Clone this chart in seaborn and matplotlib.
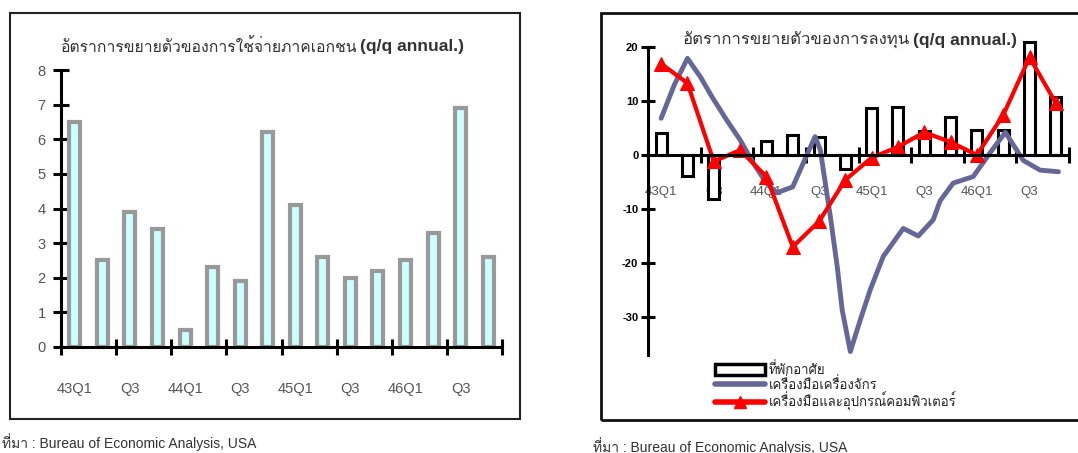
import numpy as np
import seaborn as sns
import matplotlib
matplotlib.use("Agg")
import matplotlib.pyplot as plt
from matplotlib.patches import Rectangle, Patch
from matplotlib.lines import Line2D

#%%
# Data (Thai fiscal quarters 43Q1 - 46Q4)
quarter_pos = np.arange(16)
tick_labels = ["43Q1", "Q3", "44Q1", "Q3", "45Q1", "Q3", "46Q1", "Q3"]

# left chart: private consumption growth
consumption = [6.5, 2.5, 3.9, 3.4, 0.5, 2.3, 1.9, 6.2, 4.1, 2.6, 2.0, 2.2, 2.5, 3.3, 6.9, 2.6]

# right chart: investment growth
residential = [4.0, -3.8, -8.1, 0.5, 2.6, 3.7, 3.4, -2.5, 8.7, 8.9, 4.5, 7.0, 4.6, 4.7, 20.9, 10.7]
computer = [16.9, 13.3, -1.2, 0.9, -4.0, -17.0, -12.3, -4.6, -0.5, 1.5, 4.2, 2.4, 0.0, 7.4, 18.1, 9.6]
# machinery line is smoothed in the original, so read at more points
machinery_x = [0.0, 0.5, 1.0, 1.5, 1.94, 2.5, 3.0, 3.5, 4.0, 4.4, 5.0, 5.4, 5.85, 6.05, 6.43, 6.69,
               6.88, 7.19, 7.57, 7.95, 8.44, 9.2, 9.77, 10.34, 10.6, 11.1, 11.86, 12.5, 13.08, 13.76,
               14.4, 15.1]
machinery = [6.8, 13.0, 17.9, 14.4, 10.7, 6.4, 2.8, -1.5, -5.2, -7.0, -5.9, -1.5, 3.4, 0.9, -11.4, -20.6,
             -28.7, -36.4, -30.5, -24.9, -18.8, -13.6, -15.0, -12.0, -8.5, -5.2, -4.0, 0.4, 4.2, -1.0,
             -2.8, -3.1]

title_left = "อัตราการขยายตัวของการใช้จ่ายภาคเอกชน"
title_right = "อัตราการขยายตัวของการลงทุน"
source = "ที่มา : Bureau of Economic Analysis, USA"
legend_labels = ["ที่พักอาศัย", "เครื่องมือเครื่องจักร", "เครื่องมือและอุปกรณ์คอมพิวเตอร์"]

#%%
sns.set_theme(style="white")
plt.rcParams["font.family"] = ["Liberation Sans", "Loma", "DejaVu Sans"]
plt.rcParams["axes.unicode_minus"] = False

W, H = 1078, 453
fig = plt.figure(figsize=(W / 100, H / 100), dpi=100)
fig.patch.set_facecolor("white")


def px_axes(x0, y0, x1, y1):
    # axes from pixel box (top-left origin)
    return fig.add_axes([x0 / W, 1 - y1 / H, (x1 - x0) / W, (y1 - y0) / H])


# panel frames
fig.patches.append(Rectangle((10 / W, 1 - 419 / H), 510 / W, 406 / H, transform=fig.transFigure,
                             fill=False, edgecolor="#222222", linewidth=1.5))
fig.patches.append(Rectangle((601 / W, 1 - 420 / H), 500 / W, 407 / H, transform=fig.transFigure,
                             fill=False, edgecolor="#111111", linewidth=2.0))

#%%
# Left chart
ax1 = px_axes(61, 70, 502, 347)
sns.barplot(x=quarter_pos, y=consumption, native_scale=True, width=0.4, color="#ccffff",
            saturation=1, edgecolor="#999999", linewidth=3, ax=ax1)
ax1.set_xlim(-0.5, 15.5)
ax1.set_ylim(0, 8)
ax1.patch.set_alpha(0)
for s in ["top", "right"]:
    ax1.spines[s].set_visible(False)
for s in ["left", "bottom"]:
    ax1.spines[s].set_linewidth(2.2)
    ax1.spines[s].set_color("black")
ax1.spines["left"].set_bounds(0, 8)
ax1.set_yticks(range(0, 9))
ax1.set_xticks(np.arange(-0.5, 16, 2))
ax1.set_xticklabels([])
ax1.set_xticks(np.arange(0, 16, 2), minor=True)
ax1.set_xticklabels(tick_labels, minor=True)
ax1.tick_params(axis="x", which="major", bottom=True, direction="inout", length=12, width=2.2,
                color="black")
ax1.tick_params(axis="x", which="minor", bottom=True, length=0, pad=25, labelsize=10.5,
                labelcolor="#555555")
ax1.tick_params(axis="y", left=True, direction="inout", length=12, width=2.2, color="black", pad=5,
                labelsize=10.5, labelcolor="#555555")
ax1.set_xlabel("")
ax1.set_ylabel("")

fig.text(357 / W, 1 - 47 / H, title_left, ha="right", va="center", fontsize=11.3, color="#333333")
fig.text(360 / W, 1 - 47 / H, "(q/q annual.)", ha="left", va="center", fontsize=12.5,
         fontweight="bold", color="#333333")
fig.text(2 / W, 1 - 442 / H, source, ha="left", va="center", fontsize=10, color="#333333")

#%%
# Right chart
ax2 = px_axes(648, 38.9, 1069, 354.8)
sns.barplot(x=quarter_pos, y=residential, native_scale=True, width=0.42, color="white",
            saturation=1, edgecolor="black", linewidth=2.2, ax=ax2)
sns.lineplot(x=machinery_x, y=machinery, sort=False, color="#666699", linewidth=3.5,
             solid_joinstyle="round", solid_capstyle="round", ax=ax2)
sns.lineplot(x=quarter_pos, y=computer, color="red", linewidth=3, marker="^", markersize=10,
             markeredgecolor="red", ax=ax2)
ax2.set_xlim(-0.5, 15.5)
ax2.set_ylim(-37, 21.5)
ax2.patch.set_alpha(0)
for s in ["top", "right"]:
    ax2.spines[s].set_visible(False)
for s in ["left", "bottom"]:
    ax2.spines[s].set_linewidth(2.2)
    ax2.spines[s].set_color("black")
ax2.spines["bottom"].set_position(("data", 0))
ax2.spines["left"].set_bounds(-37, 20)
ax2.set_yticks([20, 10, 0, -10, -20, -30])
ax2.set_xticks(np.arange(-0.5, 16, 2))
ax2.set_xticklabels([])
ax2.set_xticks(np.arange(0, 16, 2), minor=True)
ax2.set_xticklabels(tick_labels, minor=True)
ax2.tick_params(axis="x", which="major", bottom=True, direction="inout", length=11, width=2.2,
                color="black")
ax2.tick_params(axis="x", which="minor", bottom=True, length=0, pad=22, labelsize=9.5,
                labelcolor="#555555")
ax2.tick_params(axis="y", left=True, direction="inout", length=10, width=2.2, color="black", pad=2,
                labelsize=8, labelcolor="black")
for t in ax2.get_yticklabels():
    t.set_fontweight("bold")
ax2.set_xlabel("")
ax2.set_ylabel("")

handles = [Patch(facecolor="white", edgecolor="black", linewidth=2.5),
           Line2D([], [], color="#666699", linewidth=4),
           Line2D([], [], color="red", linewidth=4, marker="^", markersize=9)]
ax2.legend(handles, legend_labels, loc="upper left", bbox_to_anchor=(715 / W, 1 - 362 / H),
           bbox_transform=fig.transFigure, frameon=False, fontsize=9.5, handlelength=3.8,
           handleheight=0.9, handletextpad=0.3, labelspacing=0.0, borderpad=0, borderaxespad=0)

fig.text(910 / W, 1 - 40 / H, title_right, ha="right", va="center", fontsize=12, color="#333333")
fig.text(913 / W, 1 - 40 / H, "(q/q annual.)", ha="left", va="center", fontsize=12.5,
         fontweight="bold", color="#333333")
fig.text(593 / W, 1 - 446 / H, source, ha="left", va="center", fontsize=10, color="#333333")

fig.savefig("out.png", dpi=100)
